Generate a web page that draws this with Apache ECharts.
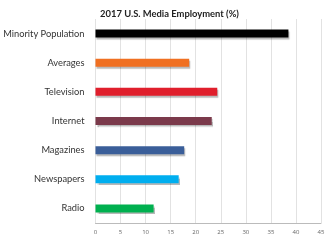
<!DOCTYPE html>
<html><head><meta charset="utf-8">
<script src="https://cdn.jsdelivr.net/npm/echarts@6/dist/echarts.min.js"></script>
<style>html,body{margin:0;padding:0;background:#fff}#c{width:330px;height:240px}</style>
</head><body><div id="c"></div>
<script>
var categories = ["Minority Population","Averages","Television","Internet","Magazines","Newspapers","Radio"];
var values = [38.5, 18.7, 24.3, 23.2, 17.7, 16.6, 11.6];
var colors = ["#000000","#f07022","#e01f2c","#7b3a4b","#3a5e99","#00aeef","#00b04f"];
var xTicks = [0,5,10,15,20,25,30,35,40,45];

var chart = echarts.init(document.getElementById('c'), null, {renderer:'canvas'});
chart.setOption({
  animation:false,
  title:{text:'2017 U.S. Media Employment (%)', left:164.5, textAlign:'center', top:4,
    textStyle:{fontFamily:'Lato', fontSize:9.4, fontWeight:'bold', color:'#222'}},
  grid:{left:95.5, right:9, top:19, bottom:17, containLabel:false, outerBoundsMode:'none'},
  xAxis:{type:'value', min:xTicks[0], max:xTicks[xTicks.length-1], interval:5,
    axisLine:{show:true, lineStyle:{color:'#bbb'}}, axisTick:{show:false},
    axisLabel:{fontSize:6, color:'#666', fontFamily:'Open Sans', margin:6},
    splitLine:{show:true, lineStyle:{color:'#e2e2e2', width:1}}},
  yAxis:{type:'category', inverse:true, data:categories,
    axisLine:{show:false}, axisTick:{show:false},
    axisLabel:{fontSize:9.3, color:'#333', fontFamily:'Lato', margin:11}},
  series:[{type:'bar', barWidth:8,
    data: values.map(function(v,i){return {value:v, itemStyle:{color:colors[i]}};}),
    itemStyle:{shadowColor:'rgba(0,0,0,0.28)', shadowOffsetX:1, shadowOffsetY:2, shadowBlur:1}}]
});
</script></body></html>
